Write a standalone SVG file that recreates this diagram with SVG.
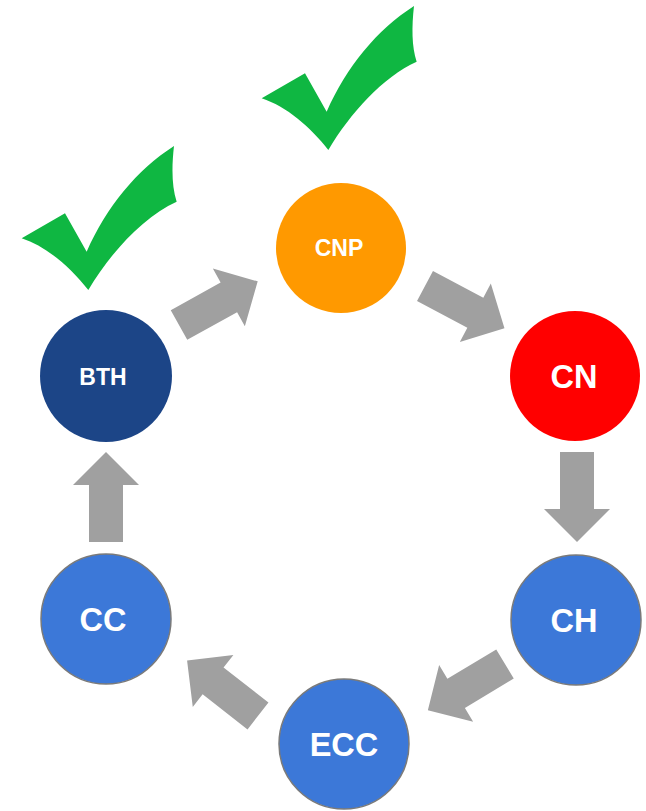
<svg xmlns="http://www.w3.org/2000/svg" xmlns:xlink="http://www.w3.org/1999/xlink" width="646" height="811" viewBox="0 0 646 811">
<style>
.lbl{font-family:"Liberation Sans",Arial,sans-serif;font-weight:bold;fill:#ffffff;text-anchor:middle}
.big{font-size:32.5px}
.small{font-size:23px}
.arrow{fill:#a0a0a0}
.check{fill:#0fb742}
.blue{fill:#3c78d8;stroke:#7a7a7a;stroke-width:1.5}
</style>
<defs>
<path id="arr" d="M0,-17 L57,-17 L57,-33 L90,0 L57,33 L57,17 L0,17 Z"/>
<path id="chk" d="M5,295 L135,220 L200,335 C260,200 350,90 462,18 C455,80 455,140 470,185 C370,230 270,340 205,450 C150,380 80,320 5,295 Z"/>
</defs>
<rect width="646" height="811" fill="#ffffff"/>
<g id="checks">
<use xlink:href="#chk" class="check" transform="translate(260,0) scale(0.3333)"/>
<use xlink:href="#chk" class="check" transform="translate(20,140) scale(0.3333)"/>
</g>
<g id="connectors">
<use xlink:href="#arr" class="arrow" transform="translate(179,325) rotate(-29)"/>
<use xlink:href="#arr" class="arrow" transform="translate(425,286) rotate(28)"/>
<use xlink:href="#arr" class="arrow" transform="translate(577,452) rotate(90)"/>
<use xlink:href="#arr" class="arrow" transform="translate(505,664) rotate(149)"/>
<use xlink:href="#arr" class="arrow" transform="translate(258,716) rotate(-142)"/>
<use xlink:href="#arr" class="arrow" transform="translate(106,542) rotate(-90)"/>
</g>
<g id="node-CNP">
<circle cx="341" cy="248" r="65" fill="#ff9900"/>
<text class="lbl small" x="339" y="256">CNP</text>
</g>
<g id="node-CN">
<circle cx="575" cy="376" r="65" fill="#ff0000"/>
<text class="lbl big" x="574" y="388">CN</text>
</g>
<g id="node-CH">
<circle class="blue" cx="576" cy="620" r="65"/>
<text class="lbl big" x="574" y="632">CH</text>
</g>
<g id="node-ECC">
<circle class="blue" cx="344" cy="744" r="65"/>
<text class="lbl big" x="344" y="756">ECC</text>
</g>
<g id="node-CC">
<circle class="blue" cx="106" cy="619" r="65"/>
<text class="lbl big" x="103" y="631">CC</text>
</g>
<g id="node-BTH">
<circle cx="106" cy="376" r="66" fill="#1c4587"/>
<text class="lbl small" x="103" y="385">BTH</text>
</g>
</svg>
